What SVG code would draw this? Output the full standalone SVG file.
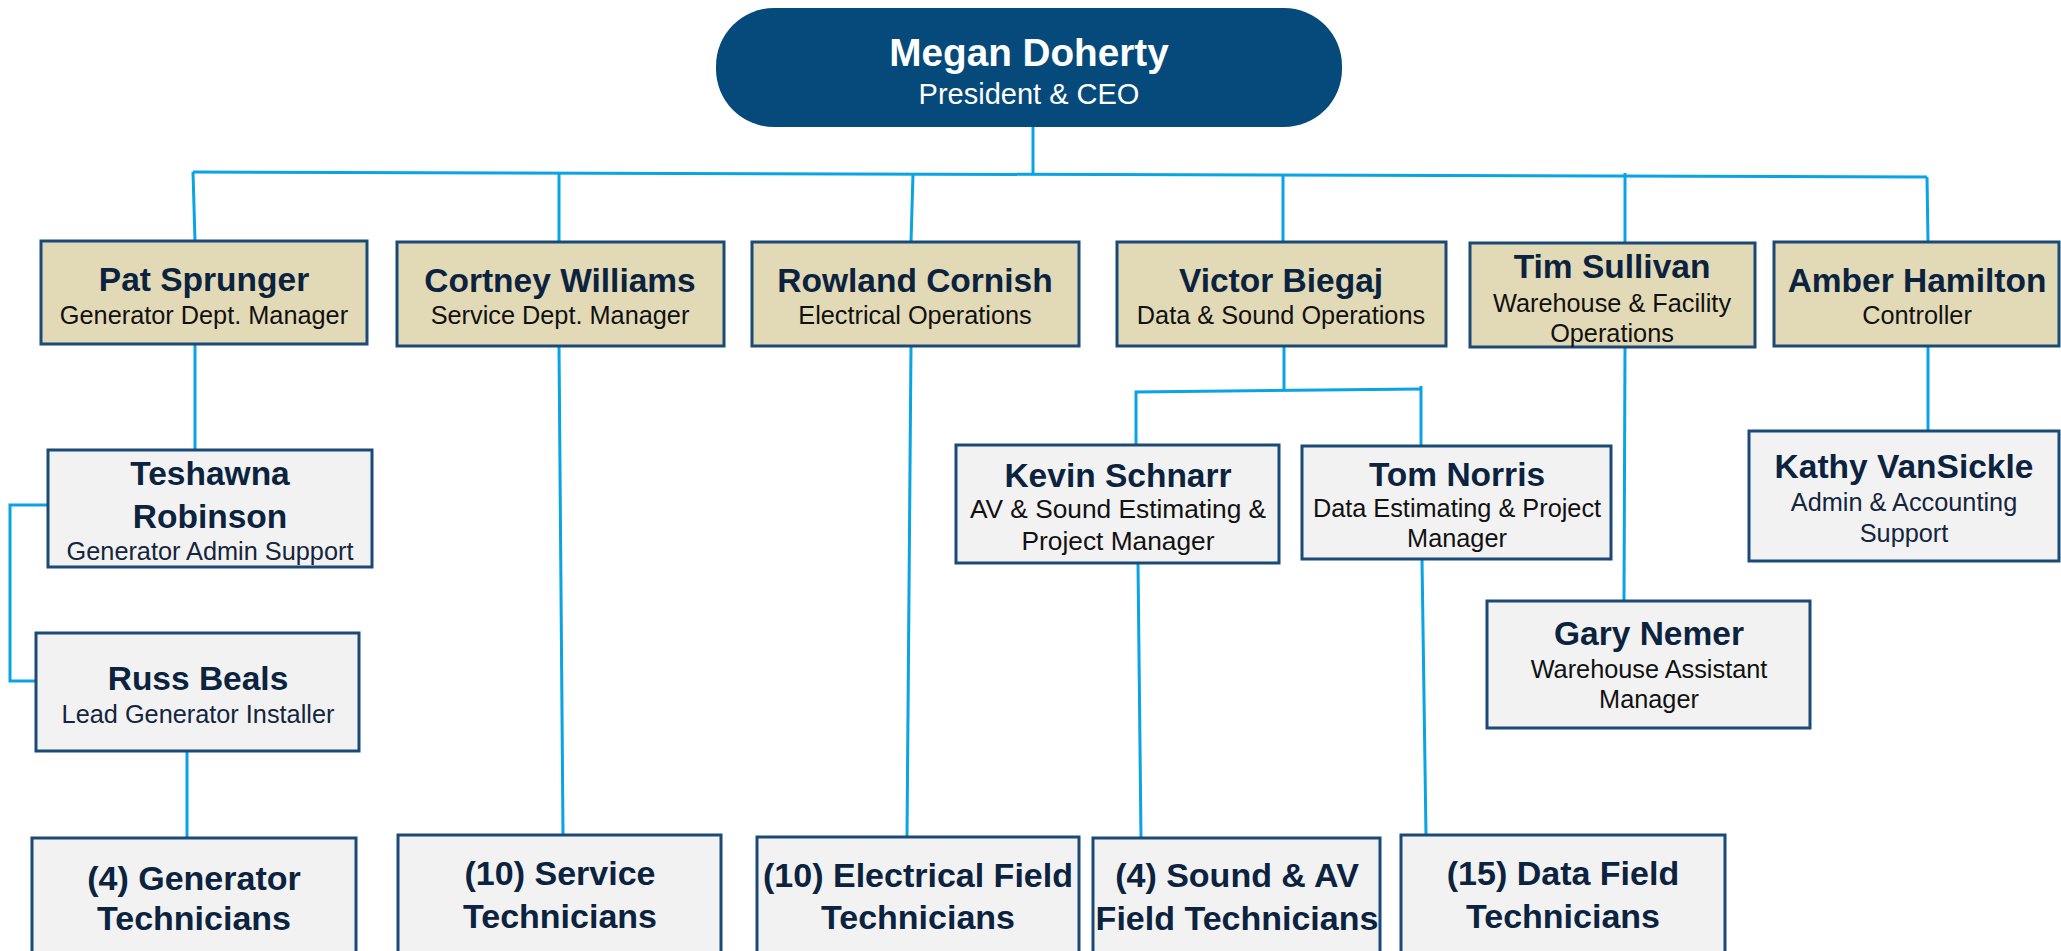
<svg xmlns="http://www.w3.org/2000/svg" width="2061" height="951" viewBox="0 0 2061 951">
  <style>
    .ln { stroke: #0AA3E3; stroke-width: 3; fill: none; }
    .lead rect { fill: #E2D9B6; stroke: #1B4A76; stroke-width: 3; }
    .staff rect { fill: #F2F2F2; stroke: #1B4A76; stroke-width: 3; }
    text { font-family: "Liberation Sans", Arial, sans-serif; text-anchor: middle; }
    .nm { font-weight: bold; font-size: 33.5px; fill: #0C2340; }
    .big { font-size: 34px; }
    .sb { font-size: 25.3px; fill: #111111; }
    .sb2 { font-size: 25.3px; fill: #14253D; }
    .wide { font-size: 26.3px; }
    .ceo-nm { font-weight: bold; font-size: 38.7px; fill: #FFFFFF; }
    .ceo-sb { font-size: 29px; fill: #FFFFFF; }
  </style>

  <!-- reporting lines -->
  <g id="connectors">
    <line class="ln" x1="1033" y1="127" x2="1033" y2="175"/>
    <line class="ln" x1="193" y1="172" x2="1927" y2="177"/>
    <line class="ln" x1="193" y1="172" x2="195" y2="241"/>
    <line class="ln" x1="559" y1="173" x2="559" y2="242"/>
    <line class="ln" x1="913" y1="174" x2="911" y2="242"/>
    <line class="ln" x1="1283" y1="175" x2="1283" y2="242"/>
    <line class="ln" x1="1625" y1="173" x2="1625" y2="243"/>
    <line class="ln" x1="1927" y1="177" x2="1928" y2="242"/>
    <!-- generator dept -->
    <line class="ln" x1="195" y1="344" x2="195" y2="451"/>
    <polyline class="ln" points="48,505 10,505 10,681 36,681"/>
    <line class="ln" x1="187" y1="751" x2="187" y2="838"/>
    <!-- service / electrical -->
    <line class="ln" x1="559" y1="346" x2="563" y2="835"/>
    <line class="ln" x1="911" y1="346" x2="907" y2="837"/>
    <!-- data & sound -->
    <line class="ln" x1="1284" y1="346" x2="1284" y2="390"/>
    <polyline class="ln" points="1136,445 1136,392 1421,389"/>
    <line class="ln" x1="1421" y1="386" x2="1421" y2="446"/>
    <line class="ln" x1="1138" y1="563" x2="1141" y2="838"/>
    <line class="ln" x1="1422" y1="559" x2="1426" y2="835"/>
    <!-- warehouse / controller -->
    <line class="ln" x1="1625" y1="347" x2="1624" y2="601"/>
    <line class="ln" x1="1928" y1="346" x2="1928" y2="431"/>
  </g>

  <g id="ceo">
    <rect x="716" y="8" width="626" height="119" rx="58" ry="58" fill="#054A7A"/>
    <text class="ceo-nm" x="1029" y="66">Megan Doherty</text>
    <text class="ceo-sb" x="1029" y="104">President &amp; CEO</text>
  </g>

  <g id="pat" class="lead">
    <rect x="41" y="241" width="326" height="103"/>
    <text class="nm" x="204" y="291">Pat Sprunger</text>
    <text class="sb" x="204" y="324">Generator Dept. Manager</text>
  </g>
  <g id="cortney" class="lead">
    <rect x="397" y="242" width="327" height="104"/>
    <text class="nm" x="560" y="292">Cortney Williams</text>
    <text class="sb" x="560" y="324">Service Dept. Manager</text>
  </g>
  <g id="rowland" class="lead">
    <rect x="752" y="242" width="327" height="104"/>
    <text class="nm" x="915" y="292">Rowland Cornish</text>
    <text class="sb" x="915" y="324">Electrical Operations</text>
  </g>
  <g id="victor" class="lead">
    <rect x="1117" y="242" width="329" height="104"/>
    <text class="nm" x="1281" y="292">Victor Biegaj</text>
    <text class="sb" x="1281" y="324">Data &amp; Sound Operations</text>
  </g>
  <g id="tim" class="lead">
    <rect x="1470" y="243" width="285" height="104"/>
    <text class="nm" x="1612" y="278">Tim Sullivan</text>
    <text class="sb" x="1612" y="312">Warehouse &amp; Facility</text>
    <text class="sb" x="1612" y="342">Operations</text>
  </g>
  <g id="amber" class="lead">
    <rect x="1774" y="242" width="285" height="104"/>
    <text class="nm" x="1917" y="292">Amber Hamilton</text>
    <text class="sb" x="1917" y="324">Controller</text>
  </g>

  <g id="teshawna" class="staff">
    <rect x="48" y="450" width="324" height="117"/>
    <text class="nm" x="210" y="485">Teshawna</text>
    <text class="nm" x="210" y="528">Robinson</text>
    <text class="sb2" x="210" y="560">Generator Admin Support</text>
  </g>
  <g id="russ" class="staff">
    <rect x="36" y="633" width="323" height="118"/>
    <text class="nm" x="198" y="690">Russ Beals</text>
    <text class="sb2" x="198" y="723">Lead Generator Installer</text>
  </g>
  <g id="kevin" class="staff">
    <rect x="956" y="445" width="323" height="118"/>
    <text class="nm" x="1118" y="487">Kevin Schnarr</text>
    <text class="sb wide" x="1118" y="518">AV &amp; Sound Estimating &amp;</text>
    <text class="sb wide" x="1118" y="550">Project Manager</text>
  </g>
  <g id="tom" class="staff">
    <rect x="1302" y="446" width="309" height="113"/>
    <text class="nm" x="1457" y="486">Tom Norris</text>
    <text class="sb" x="1457" y="517">Data Estimating &amp; Project</text>
    <text class="sb" x="1457" y="547">Manager</text>
  </g>
  <g id="gary" class="staff">
    <rect x="1487" y="601" width="323" height="127"/>
    <text class="nm" x="1649" y="645">Gary Nemer</text>
    <text class="sb" x="1649" y="678">Warehouse Assistant</text>
    <text class="sb" x="1649" y="708">Manager</text>
  </g>
  <g id="kathy" class="staff">
    <rect x="1749" y="431" width="310" height="130"/>
    <text class="nm" x="1904" y="478">Kathy VanSickle</text>
    <text class="sb2" x="1904" y="511">Admin &amp; Accounting</text>
    <text class="sb2" x="1904" y="542">Support</text>
  </g>

  <g id="gen-techs" class="staff">
    <rect x="32" y="838" width="324" height="125"/>
    <text class="nm big" x="194" y="890">(4) Generator</text>
    <text class="nm big" x="194" y="930">Technicians</text>
  </g>
  <g id="service-techs" class="staff">
    <rect x="398" y="835" width="323" height="128"/>
    <text class="nm big" x="560" y="885">(10) Service</text>
    <text class="nm big" x="560" y="928">Technicians</text>
  </g>
  <g id="electrical-techs" class="staff">
    <rect x="757" y="837" width="322" height="126"/>
    <text class="nm big" x="918" y="887">(10) Electrical Field</text>
    <text class="nm big" x="918" y="929">Technicians</text>
  </g>
  <g id="sound-techs" class="staff">
    <rect x="1093" y="838" width="287" height="125"/>
    <text class="nm big" x="1237" y="887">(4) Sound &amp; AV</text>
    <text class="nm big" x="1237" y="930">Field Technicians</text>
  </g>
  <g id="data-techs" class="staff">
    <rect x="1401" y="835" width="324" height="128"/>
    <text class="nm big" x="1563" y="885">(15) Data Field</text>
    <text class="nm big" x="1563" y="928">Technicians</text>
  </g>
</svg>
